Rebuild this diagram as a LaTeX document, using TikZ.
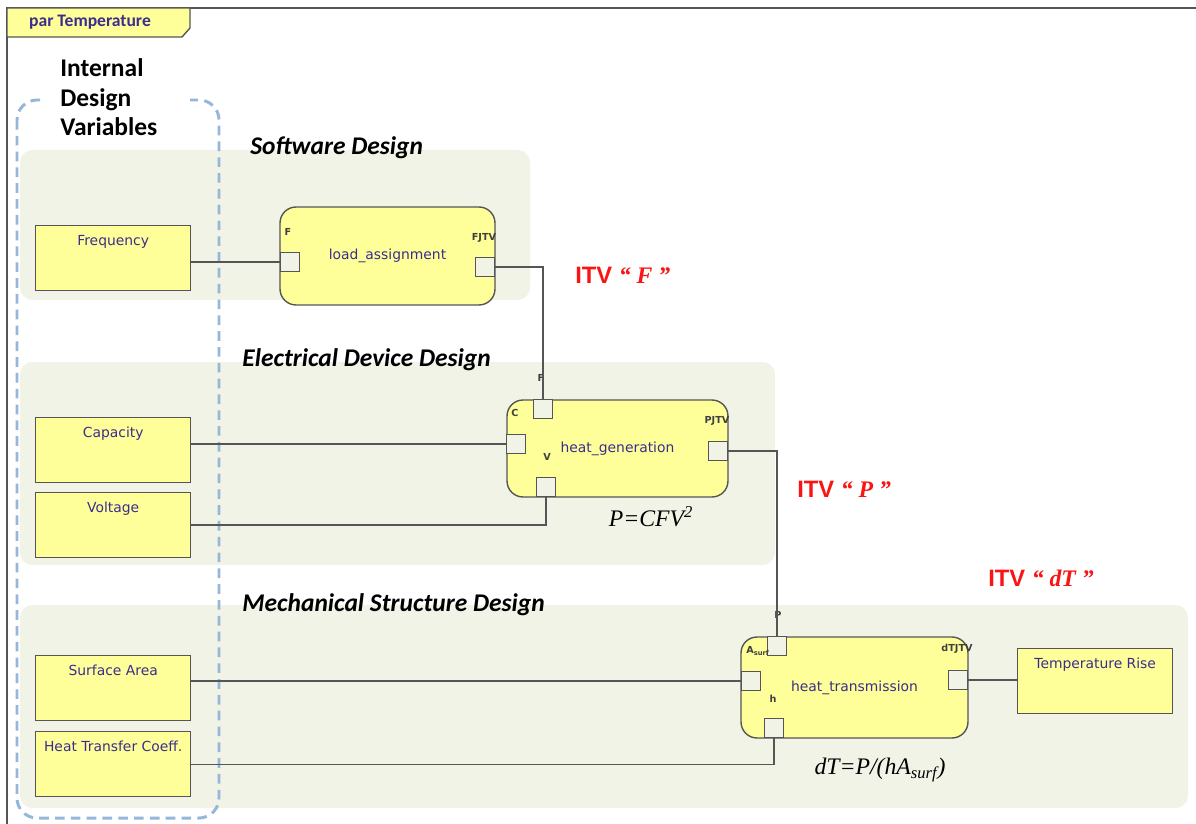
\documentclass[tikz,border=0pt]{standalone}
\usepackage{fontspec}
\setmainfont{Carlito}
\newfontfamily\uifont{DejaVu Sans}
\newfontfamily\arialfont{Liberation Sans}
\newfontfamily\timesfont{Liberation Serif}
\usetikzlibrary{positioning,calc}
\definecolor{parbg}{RGB}{240,243,230}
\definecolor{blockyellow}{RGB}{255,255,153}
\definecolor{blockedge}{RGB}{85,85,85}
\definecolor{labelblue}{RGB}{60,45,140}
\definecolor{dashblue}{RGB}{150,182,218}
\definecolor{itvred}{RGB}{250,20,20}
\begin{document}
\begin{tikzpicture}[x=0.02cm,y=-0.02cm,
  varbox/.style={draw=blockedge, fill=blockyellow, line width=0.8pt, anchor=north west,
    minimum width=3.1cm, inner xsep=0pt, inner ysep=0.1cm, text height=0.3cm, text depth=0.8cm,
    font=\uifont\fontsize{7.9}{9}\selectfont, text=labelblue},
  block/.style={draw=blockedge, fill=blockyellow, line width=0.8pt, rounded corners=0.32cm,
    font=\uifont\fontsize{7.9}{9}\selectfont, text=labelblue},
  port/.style={draw=blockedge, fill=parbg, line width=0.8pt, minimum size=0.37cm, inner sep=0pt},
  portlab/.style={font=\uifont\bfseries\fontsize{5.5}{6}\selectfont, text=black!75, inner sep=0pt},
  section/.style={anchor=west, inner sep=0pt, font=\bfseries\itshape\fontsize{14.5}{16}\selectfont},
  itv/.style={anchor=west, inner sep=0pt, text=itvred, font=\arialfont\bfseries\fontsize{13.5}{15}\selectfont},
  formula/.style={inner sep=0pt, font=\timesfont\itshape\fontsize{13.5}{15}\selectfont},
  conn/.style={draw=blockedge, line width=0.8pt}]
\useasboundingbox (0,0) rectangle (1196,824);
% frame and header tab
\draw[blockedge, line width=1.3pt] (7,824) -- (7,8) -- (1196,8);
\draw[blockedge, fill=blockyellow, line width=0.8pt] (7,8) -- (190,8) -- (190,28) -- (182,37) -- (7,37) -- cycle;
\node[text=labelblue, font=\bfseries\fontsize{10}{11}\selectfont] (hdr) at (90,22) {par Temperature};
% design areas
\fill[parbg, rounded corners=0.25cm] (20,150) rectangle (530,300);
\fill[parbg, rounded corners=0.25cm] (20,362) rectangle (775,565);
\fill[parbg, rounded corners=0.25cm] (20,605) rectangle (1188,808);
\node[section] (swd) at (250,148) {Software Design};
\node[section] (eld) at (242,360) {Electrical Device Design};
\node[section] (msd) at (242,605) {Mechanical Structure Design};
% internal design variables
\draw[dashblue, line width=1.7pt, dash pattern=on 5.5pt off 3.5pt, rounded corners=0.4cm] (17,100) rectangle (219,818);
\node[anchor=north west, fill=white, inner xsep=0.3cm, inner ysep=0pt, text width=2.3cm, align=left,
  font=\bfseries\fontsize{14.5}{17}\selectfont] (idv) at (45,58) {Internal\\Design\\Variables};
\foreach \nm/\py/\txt in {freq/225/Frequency, cap/417/Capacity, volt/492/Voltage, surf/655/Surface Area, htc/731/Heat Transfer Coeff.}
  \node[varbox] (\nm) at (35,\py) {\txt};
\node[varbox] (temp) at (1017,648) {Temperature Rise};
% constraint blocks
\node[block, minimum width=4.3cm, minimum height=1.96cm] (la) at (387.5,256) {load\_assignment};
\node[block, minimum width=4.42cm, minimum height=1.94cm] (hg) at (617.5,448.5) {heat\_generation};
\node[block, minimum width=4.54cm, minimum height=2.02cm] (ht) at (854.5,687.5) {heat\_transmission};
% ports
\foreach \nm/\px/\py in {laF/290/262, laJ/485/267, hgF/543/409, hgC/516/444, hgV/546/487, hgJ/718/451,
    htP/777/646, htA/751/681, htH/774/728, htJ/958/680}
  \node[port] (\nm) at (\px,\py) {};
\foreach \nm/\px/\py/\txt in {lblaF/288/232/F, lblaJ/484/238/FJTV, lbhgF/541/378/F, lbhgC/515/413/C,
    lbhgV/547/457/V, lbhgJ/717/421/PJTV, lbhtP/778/615/P, lbhtA/758/651/{A\textsubscript{surf}},
    lbhtH/773/699/h, lbhtJ/957/649/dTJTV}
  \node[portlab] (\nm) at (\px,\py) {\txt};
% connectors
\draw[conn] (freq.east |- laF.west) -- (laF.west);
\draw[conn] (laJ.east) -| (hgF.north);
\draw[conn] (cap.east |- hgC.west) -- (hgC.west);
\draw[conn] (volt.east) -| (hgV.south);
\draw[conn] (hgJ.east) -| (htP.north);
\draw[conn] (surf.east |- htA.west) -- (htA.west);
\draw[conn] (htc.east) -| (htH.south);
\draw[conn] (htJ.east) -- (htJ.east -| temp.west);
% equations and ITV labels
\node[formula] (eqP) at (651,517) {P=CFV\textsuperscript{2}};
\node[formula] (eqT) at (880,770) {dT=P/(hA\textsubscript{surf})};
\node[itv] (itvF) at (575,275) {ITV {\timesfont\itshape “ F ”}};
\node[itv] (itvP) at (797,489) {ITV {\timesfont\itshape “ P ”}};
\node[itv] (itvT) at (988,578) {ITV {\timesfont\itshape “ dT ”}};
\end{tikzpicture}
\end{document}
